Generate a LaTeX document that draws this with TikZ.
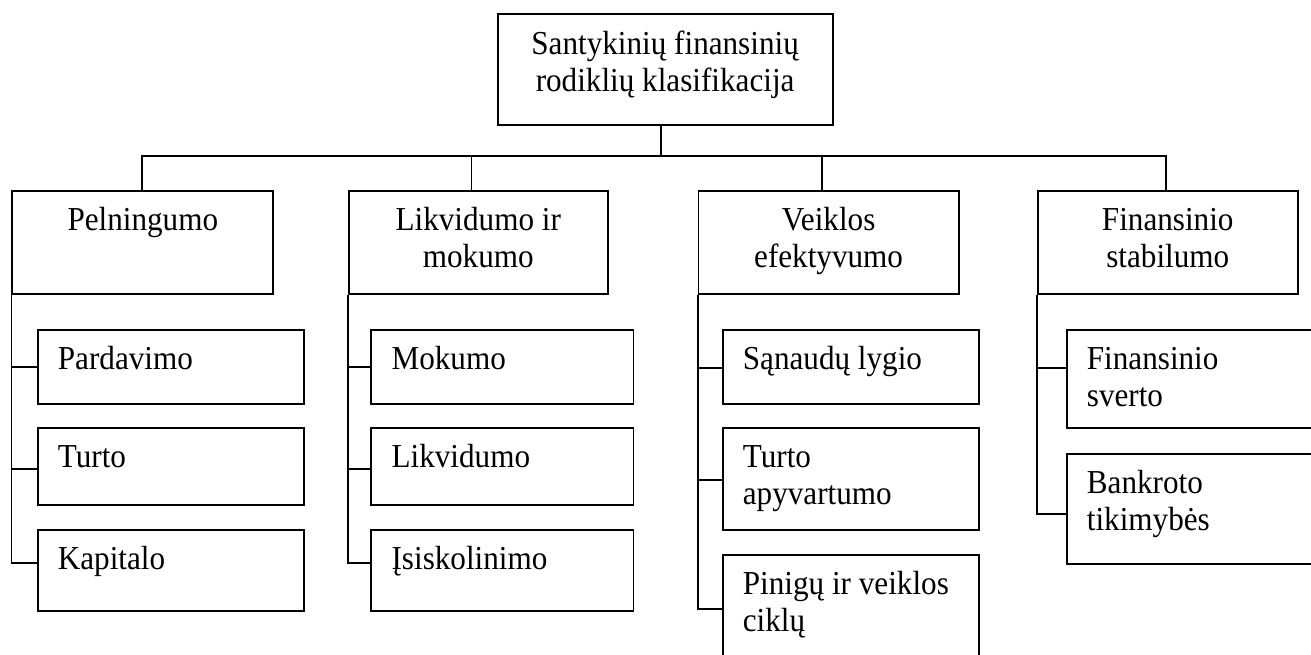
\documentclass[tikz,border=0pt]{standalone}
\usepackage{fontspec}
\setmainfont[FakeStretch=0.93]{Liberation Serif}
\newcommand{\fs}{\fontsize{33.5}{37}\selectfont}
\tikzset{
  box/.style={draw, line width=1.8pt, rectangle, inner sep=0pt, anchor=north west},
  conn/.style={line width=1.8pt},
  ltext/.style={anchor=base west, inner sep=0pt, font=\fs},
  ctext/.style={anchor=base, inner sep=0pt, font=\fs},
}
\begin{document}
\begin{tikzpicture}[x=1pt,y=-1pt]
\useasboundingbox (0,0) rectangle (1311,655);
\clip (0,0) rectangle (1311,655);
% top
\node[box, minimum width=335pt, minimum height=110.7pt] (top) at (496.7,13.3) {};
\node[ctext] (ttop) at ([yshift=-41.7pt]top.north) {\parbox[t]{330pt}{\centering Santykinių finansinių\\rodiklių klasifikacija}};
% level 1
\node[box, minimum width=261pt, minimum height=103pt] (pel) at (11.4,190) {};
\node[box, minimum width=259.3pt, minimum height=103pt] (lik) at (347.7,190) {};
\node[box, minimum width=260.2pt, minimum height=103pt] (vei) at (697.6,190) {};
\node[box, minimum width=260.3pt, minimum height=103pt] (fin) at (1036.7,190) {};
\node[ctext] (tpel) at ([yshift=-40.7pt]pel.north) {\parbox[t]{250pt}{\centering Pelningumo}};
\node[ctext] (tlik) at ([yshift=-40.7pt]lik.north) {\parbox[t]{250pt}{\centering Likvidumo ir\\mokumo}};
\node[ctext] (tvei) at ([yshift=-40.7pt]vei.north) {\parbox[t]{250pt}{\centering Veiklos\\efektyvumo}};
\node[ctext] (tfin) at ([yshift=-40.7pt]fin.north) {\parbox[t]{250pt}{\centering Finansinio\\stabilumo}};
% level 2
\node[box, minimum width=266.3pt, minimum height=73.4pt] (par) at (36.7,329.3) {};
\node[box, minimum width=266.3pt, minimum height=76.7pt] (tur) at (36.7,427.3) {};
\node[box, minimum width=266.3pt, minimum height=80.7pt] (kap) at (36.7,529.3) {};
\node[box, minimum width=262.2pt, minimum height=73.4pt] (mok) at (370.4,329.3) {};
\node[box, minimum width=262.2pt, minimum height=76.7pt] (likv) at (370.4,427.3) {};
\node[box, minimum width=262.2pt, minimum height=80.7pt] (isk) at (370.4,529.3) {};
\node[box, minimum width=256.3pt, minimum height=73.4pt] (san) at (721.7,329.3) {};
\node[box, minimum width=256.3pt, minimum height=102pt] (tap) at (721.7,427.3) {};
\node[box, minimum width=256.3pt, minimum height=150pt] (pin) at (721.7,554.3) {};
\node[box, minimum width=300pt, minimum height=97.4pt] (fsv) at (1065.7,329.3) {};
\node[box, minimum width=300pt, minimum height=110.6pt] (bank) at (1065.7,452.7) {};
\foreach \n/\t in {par/Pardavimo, tur/Turto, kap/Kapitalo, mok/Mokumo, likv/Likvidumo, isk/Įsiskolinimo, san/Sąnaudų lygio, tap/Turto\\apyvartumo, pin/Pinigų ir veiklos\\ciklų, fsv/Finansinio\\sverto, bank/Bankroto\\tikimybės}{
  \node[ltext] (t\n) at ([xshift=21pt,yshift=-40.5pt]\n.north west) {\parbox[t]{240pt}{\raggedright \t}};
}
% top connectors
\coordinate (bar) at (0,156);
\coordinate (dtop) at ([xshift=-4.5pt]top.south);
\coordinate (dpel) at ([xshift=-0.7pt]pel.north);
\coordinate (dlik) at ([xshift=-6.8pt]lik.north);
\coordinate (dvei) at ([xshift=-6.7pt]vei.north);
\coordinate (dfin) at ([xshift=-2pt]fin.north);
\draw[conn] (dtop) -- (dtop |- bar);
\draw[conn] (dpel) |- (dfin |- bar) -- (dfin);
\draw[conn] (dlik) -- (dlik |- bar);
\draw[conn] (dvei) -- (dvei |- bar);
% child connectors
\draw[conn] (pel.south west) |- ([yshift=-33.4pt]kap.north west);
\draw[conn] (pel.south west |- par.north west) ++(0,37.7) -- ([yshift=-37.7pt]par.north west);
\draw[conn] (pel.south west |- tur.north west) ++(0,41.7) -- ([yshift=-41.7pt]tur.north west);
\draw[conn] (lik.south west) |- ([yshift=-33.4pt]isk.north west);
\draw[conn] (lik.south west |- mok.north west) ++(0,37.4) -- ([yshift=-37.4pt]mok.north west);
\draw[conn] (lik.south west |- likv.north west) ++(0,41.7) -- ([yshift=-41.7pt]likv.north west);
\draw[conn] (vei.south west) |- ([yshift=-55pt]pin.north west);
\draw[conn] (vei.south west |- san.north west) ++(0,38.4) -- ([yshift=-38.4pt]san.north west);
\draw[conn] (vei.south west |- tap.north west) ++(0,53) -- ([yshift=-53pt]tap.north west);
\draw[conn] (fin.south west) |- ([yshift=-61.6pt]bank.north west);
\draw[conn] (fin.south west |- fsv.north west) ++(0,38.4) -- ([yshift=-38.4pt]fsv.north west);
\end{tikzpicture}
\end{document}
